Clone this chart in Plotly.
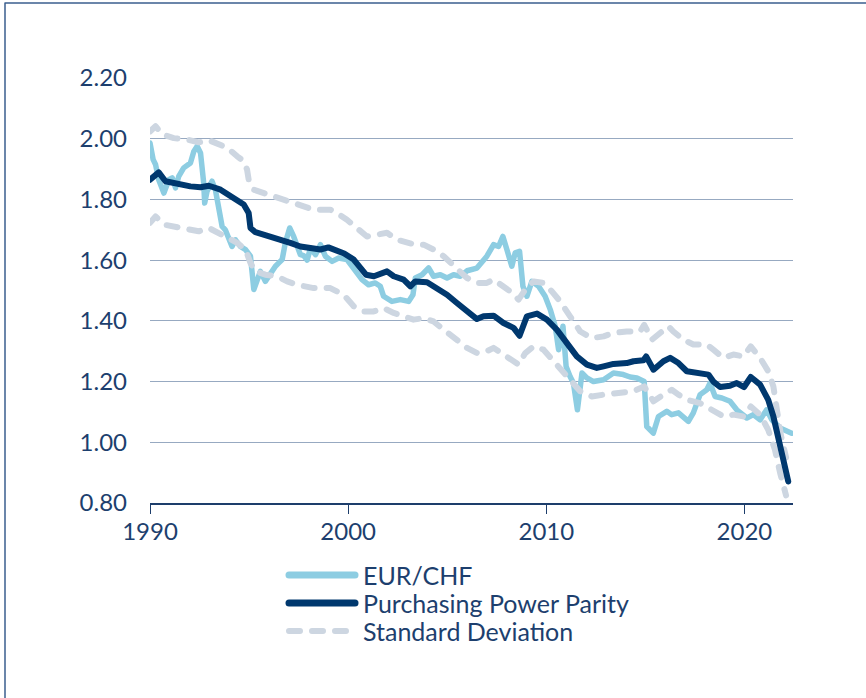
import plotly.graph_objects as go

# ---------------- data (decimal years) ----------------
eur_x = [1990.0, 1990.16, 1990.28, 1990.44, 1990.7, 1990.95, 1991.12, 1991.29, 1991.45, 1991.7,
         1992.04, 1992.21, 1992.38, 1992.55, 1992.71, 1992.76, 1992.88, 1993.05, 1993.13, 1993.3,
         1993.52, 1993.64, 1993.8, 1993.98, 1994.14, 1994.31, 1994.56, 1994.82, 1995.07, 1995.24,
         1995.4, 1995.57, 1995.82, 1996.08, 1996.33, 1996.5, 1996.67, 1996.83, 1997.05, 1997.25,
         1997.42, 1997.59, 1997.76, 1997.93, 1998.1, 1998.35, 1998.6, 1998.85, 1999.19, 1999.52,
         1999.94, 2000.28, 2000.7, 2001.03, 2001.37, 2001.62, 2001.79, 2002.21, 2002.63, 2003.05,
         2003.27, 2003.39, 2003.73, 2004.06, 2004.31, 2004.65, 2004.99, 2005.32, 2005.66, 2006.0,
         2006.16, 2006.5, 2007.0, 2007.34, 2007.59, 2007.81, 2008.01, 2008.26, 2008.43, 2008.65,
         2008.82, 2009.02, 2009.27, 2009.61, 2009.94, 2010.2, 2010.45, 2010.62, 2010.84, 2011.0,
         2011.2, 2011.37, 2011.57, 2011.8, 2012.05, 2012.38, 2012.89, 2013.39, 2013.89, 2014.23,
         2014.57, 2014.94, 2015.07, 2015.4, 2015.66, 2016.08, 2016.33, 2016.67, 2017.17, 2017.42,
         2017.76, 2018.1, 2018.26, 2018.52, 2018.86, 2019.27, 2019.61, 2020.12, 2020.45, 2020.79,
         2021.12, 2021.38, 2021.8, 2022.13, 2022.38]
eur_chf = [1.986, 1.931, 1.915, 1.865, 1.821, 1.865, 1.871, 1.838, 1.876, 1.904,
           1.920, 1.958, 1.975, 1.953, 1.854, 1.788, 1.827, 1.854, 1.860, 1.832,
           1.755, 1.711, 1.700, 1.668, 1.645, 1.667, 1.645, 1.635, 1.613, 1.503,
           1.530, 1.563, 1.530, 1.558, 1.580, 1.591, 1.602, 1.657, 1.706, 1.678,
           1.651, 1.618, 1.615, 1.600, 1.640, 1.618, 1.651, 1.613, 1.596, 1.607,
           1.602, 1.574, 1.536, 1.519, 1.525, 1.514, 1.481, 1.464, 1.470, 1.464,
           1.486, 1.541, 1.552, 1.574, 1.547, 1.552, 1.541, 1.552, 1.547, 1.565,
           1.569, 1.574, 1.613, 1.651, 1.645, 1.678, 1.635, 1.580, 1.624, 1.629,
           1.514, 1.481, 1.530, 1.514, 1.481, 1.437, 1.382, 1.305, 1.382, 1.250,
           1.217, 1.195, 1.107, 1.228, 1.212, 1.200, 1.206, 1.228, 1.223, 1.215,
           1.212, 1.200, 1.052, 1.030, 1.085, 1.102, 1.091, 1.097, 1.069, 1.097,
           1.157, 1.173, 1.195, 1.151, 1.146, 1.135, 1.107, 1.080, 1.091, 1.074,
           1.107, 1.074, 1.047, 1.036, 1.030]

ppp_x = [1990.0, 1990.44, 1990.78, 1991.2, 1991.45, 1992.04, 1992.55, 1992.97, 1993.56, 1993.9,
         1994.4, 1994.73, 1994.98, 1995.07, 1995.32, 1995.91, 1996.41, 1997.08, 1997.59, 1998.1,
         1998.6, 1999.0, 1999.44, 1999.8, 2000.28, 2000.6, 2000.9, 2001.3, 2001.96, 2002.3,
         2002.8, 2003.14, 2003.39, 2003.98, 2004.48, 2004.99, 2005.49, 2006.0, 2006.5, 2006.83,
         2007.34, 2007.84, 2008.35, 2008.65, 2009.02, 2009.53, 2010.03, 2010.53, 2011.04, 2011.54,
         2012.05, 2012.55, 2012.89, 2013.39, 2014.06, 2014.4, 2014.9, 2015.04, 2015.41, 2015.91,
         2016.25, 2016.67, 2017.09, 2017.76, 2018.18, 2018.43, 2018.77, 2019.27, 2019.61, 2019.98,
         2020.32, 2020.79, 2021.2, 2021.46, 2021.76, 2021.96, 2022.21]
ppp = [1.865, 1.889, 1.860, 1.854, 1.854, 1.843, 1.840, 1.845, 1.832, 1.818,
       1.794, 1.783, 1.755, 1.706, 1.692, 1.681, 1.673, 1.657, 1.645, 1.638,
       1.635, 1.642, 1.629, 1.622, 1.602, 1.574, 1.552, 1.547, 1.563, 1.547,
       1.536, 1.514, 1.530, 1.527, 1.508, 1.486, 1.459, 1.431, 1.406, 1.415,
       1.417, 1.393, 1.377, 1.351, 1.415, 1.424, 1.404, 1.371, 1.327, 1.283,
       1.256, 1.245, 1.250, 1.258, 1.261, 1.267, 1.270, 1.283, 1.239, 1.267,
       1.278, 1.261, 1.234, 1.226, 1.223, 1.200, 1.182, 1.186, 1.195, 1.182,
       1.215, 1.190, 1.140, 1.085, 1.009, 0.943, 0.871]

sd_up_x = [1990.0, 1990.28, 1990.62, 1991.2, 1991.88, 1992.46, 1992.97, 1993.47, 1993.9, 1994.4,
           1994.73, 1994.9, 1994.98, 1995.24, 1995.74, 1996.24, 1996.75, 1997.25, 1997.59, 1998.26,
           1999.1, 1999.44, 1999.94, 2000.45, 2000.95, 2001.46, 2001.96, 2002.47, 2002.97, 2003.39,
           2003.81, 2004.31, 2004.82, 2005.32, 2005.66, 2006.0, 2006.5, 2007.0, 2007.34, 2007.76,
           2008.18, 2008.6, 2008.94, 2009.36, 2009.86, 2010.28, 2010.7, 2011.2, 2011.71, 2012.3,
           2012.89, 2013.39, 2014.06, 2014.73, 2014.94, 2015.33, 2015.74, 2016.16, 2016.41, 2016.92,
           2017.42, 2018.1, 2018.43, 2018.94, 2019.44, 2019.95, 2020.32, 2020.79, 2021.2, 2021.46,
           2021.63, 2021.85, 2022.1]
sd_upper = [2.024, 2.041, 2.014, 2.002, 1.997, 1.988, 1.995, 1.980, 1.970, 1.942,
            1.926, 1.898, 1.865, 1.832, 1.821, 1.810, 1.799, 1.788, 1.777, 1.766,
            1.766, 1.755, 1.733, 1.706, 1.678, 1.684, 1.690, 1.667, 1.657, 1.651,
            1.651, 1.635, 1.613, 1.585, 1.562, 1.541, 1.525, 1.525, 1.536, 1.519,
            1.497, 1.470, 1.503, 1.530, 1.525, 1.497, 1.464, 1.415, 1.365, 1.343,
            1.349, 1.360, 1.365, 1.365, 1.387, 1.338, 1.360, 1.382, 1.365, 1.338,
            1.322, 1.322, 1.305, 1.278, 1.289, 1.283, 1.316, 1.278, 1.234, 1.184,
            1.110, 1.020, 0.950]

sd_lo_x = [1990.0, 1990.28, 1990.7, 1991.2, 1991.88, 1992.46, 1992.97, 1993.47, 1993.9, 1994.4,
           1994.82, 1995.07, 1995.32, 1995.82, 1996.41, 1996.92, 1997.42, 1997.8, 1998.26, 1999.1,
           1999.77, 2000.28, 2000.78, 2001.29, 2001.79, 2002.3, 2002.8, 2003.3, 2003.81, 2004.31,
           2004.82, 2005.32, 2005.7, 2006.0, 2006.5, 2007.0, 2007.34, 2007.84, 2008.35, 2008.6,
           2008.94, 2009.36, 2009.86, 2010.28, 2010.7, 2011.2, 2011.71, 2012.3, 2012.89, 2013.39,
           2014.06, 2014.4, 2014.94, 2015.41, 2015.91, 2016.33, 2016.67, 2017.09, 2017.76, 2018.43,
           2018.94, 2019.44, 2019.95, 2020.32, 2020.79, 2021.2, 2021.54, 2021.8, 2022.1]
sd_lower = [1.723, 1.744, 1.717, 1.711, 1.700, 1.695, 1.706, 1.690, 1.673, 1.657,
            1.635, 1.591, 1.563, 1.552, 1.547, 1.530, 1.519, 1.512, 1.508, 1.508,
            1.486, 1.448, 1.431, 1.431, 1.442, 1.426, 1.415, 1.404, 1.409, 1.398,
            1.371, 1.343, 1.328, 1.311, 1.294, 1.300, 1.311, 1.289, 1.267, 1.256,
            1.294, 1.316, 1.305, 1.272, 1.239, 1.206, 1.168, 1.151, 1.157, 1.162,
            1.168, 1.168, 1.184, 1.135, 1.157, 1.173, 1.157, 1.140, 1.129, 1.107,
            1.085, 1.091, 1.085, 1.118, 1.091, 1.041, 0.975, 0.899, 0.825]

y_ticks = [0.8, 1.0, 1.2, 1.4, 1.6, 1.8, 2.0, 2.2]
y_tick_labels = ["0.80", "1.00", "1.20", "1.40", "1.60", "1.80", "2.00", "2.20"]
x_ticks = [1990, 2000, 2010, 2020]
x_tick_labels = ["1990", "2000", "2010", "2020"]

legend_names = ["EUR/CHF", "Purchasing Power Parity", "Standard Deviation"]

# ---------------- styles ----------------
C_EUR = "#8dcde2"
C_PPP = "#00386e"
C_SD = "#cdd6e1"
C_TEXT = "#1d3f6e"
C_GRID = "#97a9c1"
FONT = "Lato"
TICK_SIZE = 24
LEG_SIZE = 25

W, H = 866, 698
ML, MR, MT, MB = 150, 73, 78, 195
PW, PH = W - ML - MR, H - MT - MB

fig = go.Figure()
fig.add_trace(go.Scatter(x=eur_x, y=eur_chf, mode="lines", name=legend_names[0],
                         line=dict(color=C_EUR, width=5.5), showlegend=False))
fig.add_trace(go.Scatter(x=sd_up_x, y=sd_upper, mode="lines", name=legend_names[2],
                         line=dict(color=C_SD, width=6, dash="11px,12px"), showlegend=False))
fig.add_trace(go.Scatter(x=sd_lo_x, y=sd_lower, mode="lines", name=legend_names[2],
                         line=dict(color=C_SD, width=6, dash="11px,12px"), showlegend=False))
fig.add_trace(go.Scatter(x=ppp_x, y=ppp, mode="lines", name=legend_names[1],
                         line=dict(color=C_PPP, width=6), showlegend=False))

def px2paper_x(px):
    return (px - ML) / PW

def px2paper_y(py):
    return (H - MB - py) / PH

shapes = []
# outer frame
shapes.append(dict(type="rect", xref="paper", yref="paper",
                   x0=px2paper_x(5), x1=px2paper_x(880), y0=px2paper_y(710), y1=px2paper_y(3),
                   line=dict(color="#3b5f8e", width=1.5), fillcolor="rgba(0,0,0,0)", layer="below"))

# manual legend
leg_rows = [575, 603, 631]
leg_styles = [dict(color=C_EUR, width=7), dict(color=C_PPP, width=7),
              dict(color=C_SD, width=6, dash="11px,12px")]
annotations = []
for name, ry, st in zip(legend_names, leg_rows, leg_styles):
    shapes.append(dict(type="line", xref="paper", yref="paper",
                       x0=px2paper_x(289), x1=px2paper_x(355),
                       y0=px2paper_y(ry), y1=px2paper_y(ry), line=st))
    annotations.append(dict(xref="paper", yref="paper", x=px2paper_x(361), y=px2paper_y(ry),
                            text=name, showarrow=False, xanchor="left", yanchor="middle",
                            font=dict(family=FONT, size=LEG_SIZE, color=C_TEXT)))

fig.update_layout(
    width=W, height=H,
    margin=dict(l=ML, r=MR, t=MT, b=MB, pad=0),
    paper_bgcolor="white", plot_bgcolor="white",
    font=dict(family=FONT, size=TICK_SIZE, color=C_TEXT),
    shapes=shapes, annotations=annotations,
    showlegend=False,
)
fig.update_xaxes(range=[1990, 2022.45], tickvals=x_ticks, ticktext=x_tick_labels,
                 showgrid=False, zeroline=False, showline=True, linecolor="#1d3d6b", linewidth=1.5,
                 ticks="outside", ticklen=9, tickwidth=1.2, tickcolor="#1d3d6b",
                 ticklabelstandoff=-3,
                 tickfont=dict(family=FONT, size=TICK_SIZE, color=C_TEXT))
fig.update_yaxes(range=[0.8, 2.2], tickvals=y_ticks, ticktext=y_tick_labels,
                 showgrid=True, gridcolor=C_GRID, gridwidth=1, zeroline=False, showline=False,
                 ticks="", ticklabelstandoff=22,
                 tickfont=dict(family=FONT, size=TICK_SIZE, color=C_TEXT))

post = """
document.body.style.margin='0';
document.body.style.padding='0';
var gd = document.getElementsByClassName('plotly-graph-div')[0];
function roundCaps(){
  gd.querySelectorAll('.scatterlayer path.js-line, .shapelayer path').forEach(function(p){
    p.style.strokeLinecap='round'; p.style.strokeLinejoin='round';
  });
}
roundCaps();
gd.on('plotly_afterplot', roundCaps);
"""
fig.write_html("out.html", post_script=post, config={"displayModeBar": False})
